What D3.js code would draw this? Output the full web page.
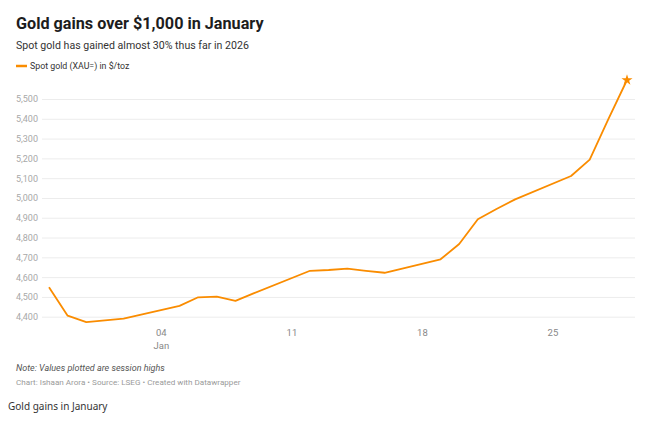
<!DOCTYPE html>
<html>
<head>
<meta charset="utf-8">
<script src="https://cdn.jsdelivr.net/npm/d3@7/dist/d3.min.js"></script>
<style>
  html, body { margin: 0; padding: 0; background: #fff; }
  svg { display: block; }
</style>
</head>
<body>
<svg id="chart" width="667" height="423"></svg>
<script>
// ---- Data ----
const dates = [
  "2025-12-29","2025-12-30","2025-12-31","2026-01-02",
  "2026-01-05","2026-01-06","2026-01-07","2026-01-08","2026-01-09",
  "2026-01-12","2026-01-13","2026-01-14","2026-01-15","2026-01-16",
  "2026-01-19","2026-01-20","2026-01-21","2026-01-22","2026-01-23",
  "2026-01-26","2026-01-27","2026-01-28","2026-01-29"
];
const goldHigh = [
  4549, 4405, 4373, 4390,
  4455, 4498, 4501, 4480, 4519,
  4632, 4636, 4643, 4632, 4622,
  4690, 4767, 4892, 4944, 4993,
  5111, 5194, 5398, 5596
];
const yTicks = [4400, 4500, 4600, 4700, 4800, 4900, 5000, 5100, 5200, 5300, 5400, 5500];
const xTickDates = ["2026-01-04", "2026-01-11", "2026-01-18", "2026-01-25"];
const xTickLabels = ["04", "11", "18", "25"];
const xTickSubLabels = ["Jan", "", "", ""];

const title = "Gold gains over $1,000 in January";
const subtitle = "Spot gold has gained almost 30% thus far in 2026";
const legendLabel = "Spot gold (XAU=) in $/toz";
const note = "Note: Values plotted are session highs";
const credit = "Chart: Ishaan Arora \u2022 Source: LSEG \u2022 Created with Datawrapper";
const caption = "Gold gains in January";

// ---- Setup ----
const parse = d3.timeParse("%Y-%m-%d");
const data = dates.map((d, i) => ({ date: parse(d), value: goldHigh[i] }));
const svg = d3.select("#chart");
const font = "Roboto, 'Noto Sans', sans-serif";
const orange = "#fa8c00";

const x = d3.scaleTime()
  .domain([parse(dates[0]), parse(dates[dates.length - 1])])
  .range([49, 627]);
const y = d3.scaleLinear()
  .domain([4400, 5500])
  .range([316.7, 99]);

const gridLeft = 42, gridRight = 635;

// Header
svg.append("text").attr("x", 16).attr("y", 28.5)
  .attr("font-family", font).attr("font-weight", 700).attr("font-size", 16.2)
  .attr("fill", "#1d1d1d").text(title);
svg.append("text").attr("x", 16).attr("y", 48.5)
  .attr("font-family", font).attr("font-size", 10.6)
  .attr("fill", "#333").text(subtitle);

// Legend
svg.append("line").attr("x1", 16).attr("x2", 27).attr("y1", 66).attr("y2", 66)
  .attr("stroke", orange).attr("stroke-width", 2.5);
svg.append("text").attr("x", 30).attr("y", 69)
  .attr("font-family", font).attr("font-size", 8.8)
  .attr("fill", "#333").text(legendLabel);

// Y grid + labels
const yAxis = d3.axisLeft(y).tickValues(yTicks)
  .tickSize(-(gridRight - gridLeft)).tickPadding(4)
  .tickFormat(d3.format(","));
const gy = svg.append("g").attr("transform", `translate(${gridLeft},0)`).call(yAxis);
gy.select(".domain").remove();
gy.selectAll(".tick line").attr("stroke", "#ececec").attr("stroke-width", 1);
gy.selectAll(".tick text").attr("font-family", font).attr("font-size", 9)
  .attr("fill", "#a8a8a8");

// X axis labels
const xAxis = d3.axisBottom(x).tickValues(xTickDates.map(parse))
  .tickSize(0).tickPadding(0)
  .tickFormat((d, i) => xTickLabels[i]);
const gx = svg.append("g").attr("transform", `translate(0,329)`).call(xAxis);
gx.select(".domain").remove();
gx.selectAll(".tick text").attr("font-family", font).attr("font-size", 9.5)
  .attr("fill", "#888").attr("dy", "0.71em");
gx.selectAll(".tick").append("text")
  .attr("y", 342).attr("dy", "0.71em")
  .attr("transform", "translate(0,-329)")
  .attr("text-anchor", "middle")
  .attr("font-family", font).attr("font-size", 9.5).attr("fill", "#888")
  .text((d, i) => xTickSubLabels[i]);

// Line
const line = d3.line().x(d => x(d.date)).y(d => y(d.value));
svg.append("path").datum(data)
  .attr("d", line).attr("fill", "none")
  .attr("stroke", orange).attr("stroke-width", 1.8)
  .attr("stroke-linejoin", "round");

// Star at last point
const last = data[data.length - 1];
svg.append("path")
  .attr("d", d3.symbol(d3.symbolStar, 38)())
  .attr("transform", `translate(${x(last.date)},${y(last.value)})`)
  .attr("fill", orange);

// Footer
svg.append("text").attr("x", 16).attr("y", 371)
  .attr("font-family", font).attr("font-style", "italic").attr("font-size", 9)
  .attr("fill", "#555").text(note);
svg.append("text").attr("x", 16).attr("y", 385)
  .attr("font-family", font).attr("font-size", 8.1)
  .attr("fill", "#9a9a9a").text(credit);
svg.append("text").attr("x", 8).attr("y", 410)
  .attr("font-family", "'Noto Sans', sans-serif").attr("font-size", 10)
  .attr("fill", "#333").text(caption);
</script>
</body>
</html>
